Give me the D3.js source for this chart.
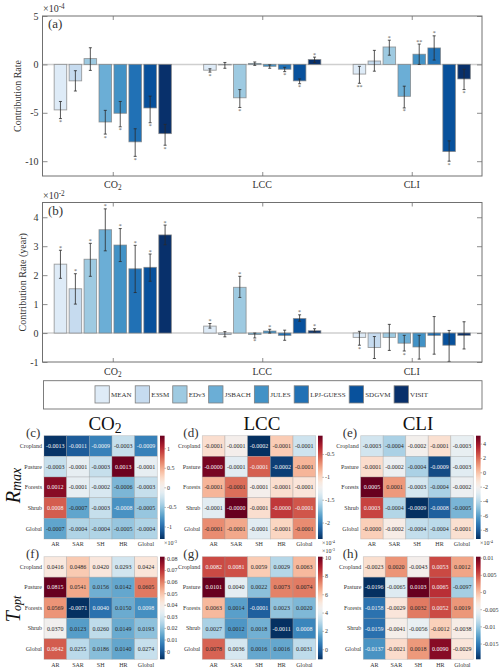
<!DOCTYPE html>
<html lang="en">
<head>
    <meta charset="UTF-8">
    <title>Contribution Rate</title>
    <script src="https://d3js.org/d3.v7.min.js"></script>
    <style>
        body { margin: 0; background: #fff; overflow: hidden; }
        svg { display: block; }
        text { font-family: "Liberation Serif", "Times New Roman", serif; fill: #333; }
    </style>
</head>
<body>
    <div id="chart"></div>

    <script>
        const models = ["MEAN", "E3SM", "EDv3", "JSBACH", "JULES", "LPJ-GUESS", "SDGVM", "VISIT"];
        const modelColors = ["#deebf7", "#c6dbef", "#9ecae1", "#6baed6", "#4292c6", "#2171b5", "#08519c", "#08306b"];
        const drivers = ["CO2", "LCC", "CLI"];

        // panel (a), x 1e-4, one row per driver
        const rateA = [
            [-4.7, -1.7, 0.6, -5.95, -5.05, -8.0, -4.5, -7.15],
            [-0.6, -0.05, -3.45, 0.1, -0.2, -0.5, -1.7, 0.5],
            [-1.0, 0.35, 1.8, -3.3, 1.05, 1.7, -9.0, -1.5]
        ];
        const highA = [
            [-3.83, -0.65, 1.72, -4.75, -3.83, -6.65, -3.28, -6.2],
            [-0.45, 0.2, -2.6, 0.25, -0.05, -0.3, -1.5, 0.75],
            [-0.2, 1.45, 2.5, -2.25, 2.1, 2.95, -7.9, -0.5]
        ];
        const lowA = [
            [-5.6, -2.75, -0.62, -7.2, -6.45, -9.5, -6.03, -8.35],
            [-0.8, -0.4, -4.45, -0.1, -0.4, -0.75, -2.0, 0.2],
            [-1.95, -0.7, 0.95, -4.5, 0, 0.45, -10, -2.6]
        ];
        const starsA = [
            [1, 0, 0, 1, 1, 1, 1, 1],
            [1, 0, 1, 0, 0, 1, 1, 1],
            [2, 0, 1, 1, 2, 1, 1, 1]
        ];

        // panel (b), x 1e-2
        const rateB = [
            [2.38, 1.53, 2.55, 3.57, 3.04, 2.22, 2.27, 3.39],
            [0.24, -0.05, 1.58, -0.05, 0.07, -0.08, 0.5, 0.08],
            [-0.15, -0.5, -0.15, -0.35, -0.48, -0.08, -0.42, -0.08]
        ];
        const highB = [
            [2.86, 2.05, 3.1, 4.29, 3.61, 3.03, 2.73, 3.73],
            [0.33, 0.05, 1.96, 0, 0.13, 0.1, 0.63, 0.15],
            [0.06, -0.12, 0.3, -0.08, -0.08, 0.57, 0.09, 0.39]
        ];
        const lowB = [
            [1.89, 1.0, 1.96, 2.84, 2.47, 1.4, 1.79, 3.05],
            [0.17, -0.13, 1.23, -0.17, 0, -0.25, 0.41, 0.04],
            [-0.42, -0.88, -0.6, -0.62, -0.9, -0.73, -0.98, -0.55]
        ];
        const starsB = [
            [1, 1, 1, 1, 1, 1, 1, 1],
            [1, 0, 1, 1, 1, 0, 1, 1],
            [1, 0, 0, 1, 0, 0, 0, 0]
        ];

        // heatmaps
        const regions = ["Cropland", "Pasture", "Forests", "Shrub", "Global"];
        const metrics = ["AR", "SAR", "SH", "HR", "Global"];

        const rmaxCO2 = [
            [-0.0013, -0.0011, -0.0009, -0.0003, -0.0009],
            [-0.0003, -0.0001, -0.0003, 0.0013, -0.0001],
            [0.0012, -0.0001, -0.0002, -0.0006, -0.0003],
            [0.0008, -0.0007, -0.0003, -0.0008, -0.0005],
            [-0.0007, -0.0004, -0.0004, -0.0005, -0.0004]
        ];
        const rmaxLCC = [
            [-0.000105, -0.00012, -0.000236, -0.000095, -0.000145],
            [-0.000015, -0.000135, -0.000055, -0.00023, -0.000085],
            [-0.000085, -0.00006, -0.00012, -0.000105, -0.00011],
            [-0.000135, -0.00001, -0.000105, -0.000042, -0.000052],
            [-0.00007, -0.00008, -0.000135, -0.0001, -0.00007]
        ];
        const rmaxCLI = [
            [-0.00034, -0.00044, -0.0002, -0.0001, -0.00026],
            [-0.00009, -0.00024, -0.00044, -0.00086, -0.00029],
            [0.00051, 0.0001, -0.00033, -0.00044, -0.00024],
            [0.00028, -0.00042, -0.00093, -0.0008, -0.00054],
            [-0.00004, -0.00017, -0.00038, -0.0004, -0.0001]
        ];
        const toptCO2 = [
            [0.0416, 0.0486, 0.042, 0.0293, 0.0424],
            [0.0815, 0.0541, 0.0156, 0.0142, 0.0605],
            [0.0569, -0.0071, 0.004, 0.015, 0.0098],
            [0.037, 0.0123, 0.026, 0.0149, 0.0193],
            [0.0642, 0.0255, 0.0186, 0.014, 0.0274]
        ];
        const toptLCC = [
            [0.0082, 0.0081, 0.0059, 0.0029, 0.0063],
            [0.0101, 0.004, 0.0022, 0.0073, 0.0074],
            [0.0063, 0.0014, -0.0001, 0.0023, 0.002],
            [0.0027, 0.0012, 0.0018, -0.0011, 0.0008],
            [0.0078, 0.0036, 0.0016, 0.0016, 0.0031]
        ];
        const toptCLI = [
            [-0.0023, 0.002, -0.0043, 0.0053, 0.0012],
            [-0.0196, -0.0065, 0.0103, 0.0065, -0.0097],
            [-0.0158, -0.0029, 0.0032, 0.0052, 0.0019],
            [-0.0159, -0.0041, -0.0056, -0.0012, -0.0038],
            [-0.0137, -0.0021, 0.0018, 0.009, -0.0029]
        ];

        const svg = d3.select("#chart").append("svg")
            .attr("width", 500)
            .attr("height", 672);

        const frameColor = "#707070";

        function styleAxis(g, size) {
            g.selectAll(".domain").remove();
            g.selectAll("line").attr("stroke", frameColor).attr("stroke-width", 0.8);
            g.selectAll("text").attr("font-size", size).style("fill", "#333");
        }

        function subText(sel, base, sub, sup) {
            sel.append("tspan").text(base);
            if (sub) sel.append("tspan").attr("font-size", "0.72em").attr("dy", "0.25em").text(sub);
            if (sup) sel.append("tspan").attr("font-size", "0.72em").attr("dy", "-0.4em").text(sup);
        }

        function driverLabel(sel, name) {
            if (name === "CO2") subText(sel, "CO", "2");
            else sel.text(name);
        }

        // Bar panels (a) and (b)
        function drawBars(opts) {
            const x = d3.scaleLinear().domain([0.53, 3.47]).range([42.5, 482]);
            const y = d3.scaleLinear().domain(opts.yDomain).range([opts.bottom, opts.top]);
            const g = svg.append("g");
            const offset = 0.1;
            const barW = x(0.084) - x(0);

            g.append("line")
                .attr("x1", x.range()[0]).attr("x2", x.range()[1])
                .attr("y1", y(0)).attr("y2", y(0))
                .attr("stroke", "#cfcfcf").attr("stroke-width", 1.5);

            drivers.forEach((driver, i) => {
                const center = i + 1;
                models.forEach((model, j) => {
                    const cx = x(center + (j - 3.5) * offset);
                    const v = opts.values[i][j];
                    g.append("rect")
                        .attr("x", cx - barW / 2)
                        .attr("y", Math.min(y(v), y(0)))
                        .attr("width", barW)
                        .attr("height", Math.abs(y(v) - y(0)))
                        .attr("fill", modelColors[j])
                        .attr("stroke", "#7f7f7f")
                        .attr("stroke-opacity", 0.75)
                        .attr("stroke-width", 0.9);

                    const yHi = y(opts.high[i][j]);
                    const yLo = y(opts.low[i][j]);
                    g.append("path")
                        .attr("d", `M${cx},${yHi}V${yLo}M${cx - 1.5},${yHi}H${cx + 1.5}M${cx - 1.5},${yLo}H${cx + 1.5}`)
                        .attr("fill", "none")
                        .attr("stroke", "#2b2b2b")
                        .attr("stroke-width", 0.8);

                    const n = opts.stars[i][j];
                    if (n > 0) {
                        g.append("text")
                            .attr("x", cx)
                            .attr("y", v >= 0 ? yHi - 0.5 : yLo + 5.5)
                            .attr("text-anchor", "middle")
                            .attr("font-size", 6)
                            .style("fill", "#555")
                            .text("*".repeat(n));
                    }
                });
            });

            g.append("rect")
                .attr("x", x.range()[0]).attr("y", opts.top)
                .attr("width", x.range()[1] - x.range()[0])
                .attr("height", opts.bottom - opts.top)
                .attr("fill", "none")
                .attr("stroke", frameColor)
                .attr("stroke-width", 1);

            const tickFmt = d => String(d);
            g.append("g").attr("transform", `translate(${x.range()[0]},0)`)
                .call(d3.axisLeft(y).tickValues(opts.yTicks).tickFormat(tickFmt).tickSizeInner(-5).tickSizeOuter(0).tickPadding(4))
                .call(a => styleAxis(a, 10));
            g.append("g").attr("transform", `translate(${x.range()[1]},0)`)
                .call(d3.axisRight(y).tickValues(opts.yTicks).tickFormat("").tickSizeInner(-5).tickSizeOuter(0))
                .call(a => styleAxis(a, 10));
            g.append("g").attr("transform", `translate(0,${opts.bottom})`)
                .call(d3.axisBottom(x).tickValues([1, 2, 3]).tickFormat("").tickSizeInner(-4).tickSizeOuter(0))
                .call(a => styleAxis(a, 10));
            g.append("g").attr("transform", `translate(0,${opts.top})`)
                .call(d3.axisTop(x).tickValues([1, 2, 3]).tickFormat("").tickSizeInner(-4).tickSizeOuter(0))
                .call(a => styleAxis(a, 10));

            drivers.forEach((driver, i) => {
                g.append("text")
                    .attr("x", x(i + 1))
                    .attr("y", opts.bottom + opts.catGap)
                    .attr("text-anchor", "middle")
                    .attr("font-size", 10)
                    .call(driverLabel, driver);
            });

            g.append("text")
                .attr("transform", `translate(${opts.labelX},${(opts.top + opts.bottom) / 2 + opts.labelShift}) rotate(-90)`)
                .attr("text-anchor", "middle")
                .attr("font-size", 10)
                .text(opts.yLabel);

            g.append("text")
                .attr("x", 43).attr("y", opts.top - 4)
                .attr("font-size", 10)
                .call(subText, "×10", null, opts.power);

            g.append("text")
                .attr("x", 48).attr("y", opts.top + 12)
                .attr("font-size", 13)
                .text(opts.letter);
        }

        drawBars({
            values: rateA, high: highA, low: lowA, stars: starsA,
            yDomain: [-11.53, 5], yTicks: [-10, -5, 0, 5],
            top: 16, bottom: 176, catGap: 12, labelX: 21, labelShift: 0,
            yLabel: "Contribution Rate", power: "-4", letter: "(a)"
        });
        drawBars({
            values: rateB, high: highB, low: lowB, stars: starsB,
            yDomain: [-1, 4.51], yTicks: [-1, 0, 1, 2, 3, 4],
            top: 202.5, bottom: 362, catGap: 13, labelX: 26, labelShift: 0,
            yLabel: "Contribution Rate (year)", power: "-2", letter: "(b)"
        });

        // Legend
        const legend = svg.append("g");
        legend.append("rect")
            .attr("x", 43.5).attr("y", 380.7)
            .attr("width", 438.5).attr("height", 28.3)
            .attr("fill", "#fff")
            .attr("stroke", frameColor)
            .attr("stroke-width", 0.9);
        let cursor = 95;
        models.forEach((model, j) => {
            legend.append("rect")
                .attr("x", cursor).attr("y", 385.8)
                .attr("width", 14.3).attr("height", 17.2)
                .attr("fill", modelColors[j])
                .attr("stroke", "#7f7f7f")
                .attr("stroke-width", 0.8);
            const label = legend.append("text")
                .attr("x", cursor + 16)
                .attr("y", 397)
                .attr("font-size", 7)
                .text(model);
            cursor += 16 + label.node().getComputedTextLength() + 3.6;
        });

        // Heatmaps
        let gradId = 0;
        function drawHeat(opts) {
            const g = svg.append("g");
            const x = d3.scaleBand().domain(metrics).range([opts.x0, opts.x1]);
            const y = d3.scaleBand().domain(regions).range([opts.y0, opts.y1]);
            const norm = d3.scaleLinear().domain(opts.domain).range([0, 1]);
            const color = v => d3.interpolateRdBu(1 - norm(v));

            regions.forEach((region, r) => {
                metrics.forEach((metric, c) => {
                    const v = opts.values[r][c];
                    g.append("rect")
                        .attr("x", x(metric)).attr("y", y(region))
                        .attr("width", x.bandwidth()).attr("height", y.bandwidth())
                        .attr("fill", color(v))
                        .attr("stroke", "#9a9a9a")
                        .attr("stroke-opacity", 0.45)
                        .attr("stroke-width", 0.7);
                    const t = norm(v);
                    g.append("text")
                        .attr("x", x(metric) + x.bandwidth() / 2)
                        .attr("y", y(region) + y.bandwidth() / 2 + 2)
                        .attr("text-anchor", "middle")
                        .attr("font-size", 6)
                        .style("fill", Math.abs(t - 0.5) > 0.298 ? "#f4f4f4" : "#262626")
                        .text(v.toFixed(4));
                });
            });

            g.append("g").attr("transform", `translate(${opts.x0},0)`)
                .call(d3.axisLeft(y).tickSize(0).tickPadding(2))
                .call(a => styleAxis(a, 6));
            g.append("g").attr("transform", `translate(0,${opts.y1})`)
                .call(d3.axisBottom(x).tickSize(0).tickPadding(3))
                .call(a => styleAxis(a, 6));

            // colour bar
            const id = "grad" + (gradId++);
            const grad = svg.append("defs").append("linearGradient")
                .attr("id", id)
                .attr("x1", 0).attr("x2", 0).attr("y1", 1).attr("y2", 0);
            d3.range(0, 1.001, 0.05).forEach(t => {
                grad.append("stop")
                    .attr("offset", t)
                    .attr("stop-color", d3.interpolateRdBu(1 - t));
            });
            g.append("rect")
                .attr("x", opts.barX).attr("y", opts.y0)
                .attr("width", 4.6).attr("height", opts.y1 - opts.y0)
                .attr("fill", `url(#${id})`);
            const cb = d3.scaleLinear()
                .domain(opts.domain.map(d => d / opts.unit))
                .range([opts.y1, opts.y0]);
            g.append("g").attr("transform", `translate(${opts.barX + 4.6},0)`)
                .call(d3.axisRight(cb).tickValues(opts.ticks).tickFormat(d => String(d)).tickSizeInner(1).tickSizeOuter(0).tickPadding(1.5))
                .call(a => styleAxis(a, 6));
            if (opts.power) {
                g.append("text")
                    .attr("x", opts.barX + 4)
                    .attr("y", opts.powerTop ? opts.y0 - 3.5 : opts.y1 + 6)
                    .attr("font-size", 6)
                    .call(subText, "×10", null, opts.power);
            }

            g.append("text")
                .attr("x", opts.x0 - opts.letterGap).attr("y", opts.y0 + 1.5)
                .attr("font-size", 13)
                .text(opts.letter);
        }

        drawHeat({
            values: rmaxCO2, domain: [-0.00132, 0.00132], unit: 1e-3, ticks: [-1, -0.5, 0, 0.5, 1], power: "-3",
            x0: 44, x1: 157.3, y0: 435.7, y1: 539, barX: 160, letter: "(c)", letterGap: 18
        });
        drawHeat({
            values: rmaxLCC, domain: [-0.000236, -0.00001], unit: 1e-4, ticks: [-2, -1.5, -1, -0.5], power: "-4",
            x0: 202.3, x1: 315.7, y0: 435.7, y1: 539, barX: 318, letter: "(d)", letterGap: 19
        });
        drawHeat({
            values: rmaxCLI, domain: [-0.00093, 0.00051], unit: 1e-4, ticks: [-8, -6, -4, -2, 0, 2, 4], power: "-4",
            x0: 360.7, x1: 473.3, y0: 435.7, y1: 539, barX: 476, letter: "(e)", letterGap: 18
        });
        drawHeat({
            values: toptCO2, domain: [-0.0071, 0.0815], unit: 1, ticks: [0, 0.01, 0.02, 0.03, 0.04, 0.05, 0.06, 0.07, 0.08],
            x0: 44, x1: 157.3, y0: 556.7, y1: 659.3, barX: 160, letter: "(f)", letterGap: 18
        });
        drawHeat({
            values: toptLCC, domain: [-0.0011, 0.0101], unit: 1e-3, ticks: [0, 2, 4, 6, 8, 10], power: "-3", powerTop: true,
            x0: 202.3, x1: 315.7, y0: 556.7, y1: 659.3, barX: 318, letter: "(g)", letterGap: 19
        });
        drawHeat({
            values: toptCLI, domain: [-0.0196, 0.0103], unit: 1, ticks: [-0.015, -0.01, -0.005, 0, 0.005, 0.01],
            x0: 363.3, x1: 473.3, y0: 556.7, y1: 659.3, barX: 476, letter: "(h)", letterGap: 20.6
        });

        // Column titles and row titles
        [[105, "CO2"], [262, "LCC"], [418, "CLI"]].forEach(([cx, name]) => {
            svg.append("text")
                .attr("x", cx).attr("y", 430)
                .attr("text-anchor", "middle")
                .attr("font-size", 19)
                .style("fill", "#111")
                .call(driverLabel, name);
        });

        function rowTitle(cy, base, sub, subSize) {
            const t = svg.append("text")
                .attr("transform", `translate(20,${cy}) rotate(-90)`)
                .attr("text-anchor", "middle")
                .attr("font-size", 20)
                .attr("font-style", "italic")
                .style("fill", "#111");
            t.append("tspan").text(base);
            t.append("tspan").attr("font-size", subSize).attr("dy", 1).text(sub);
        }
        rowTitle(485.5, "R", "max", 14);
        rowTitle(609, "T", "opt", 12);
    </script>
</body>
</html>
